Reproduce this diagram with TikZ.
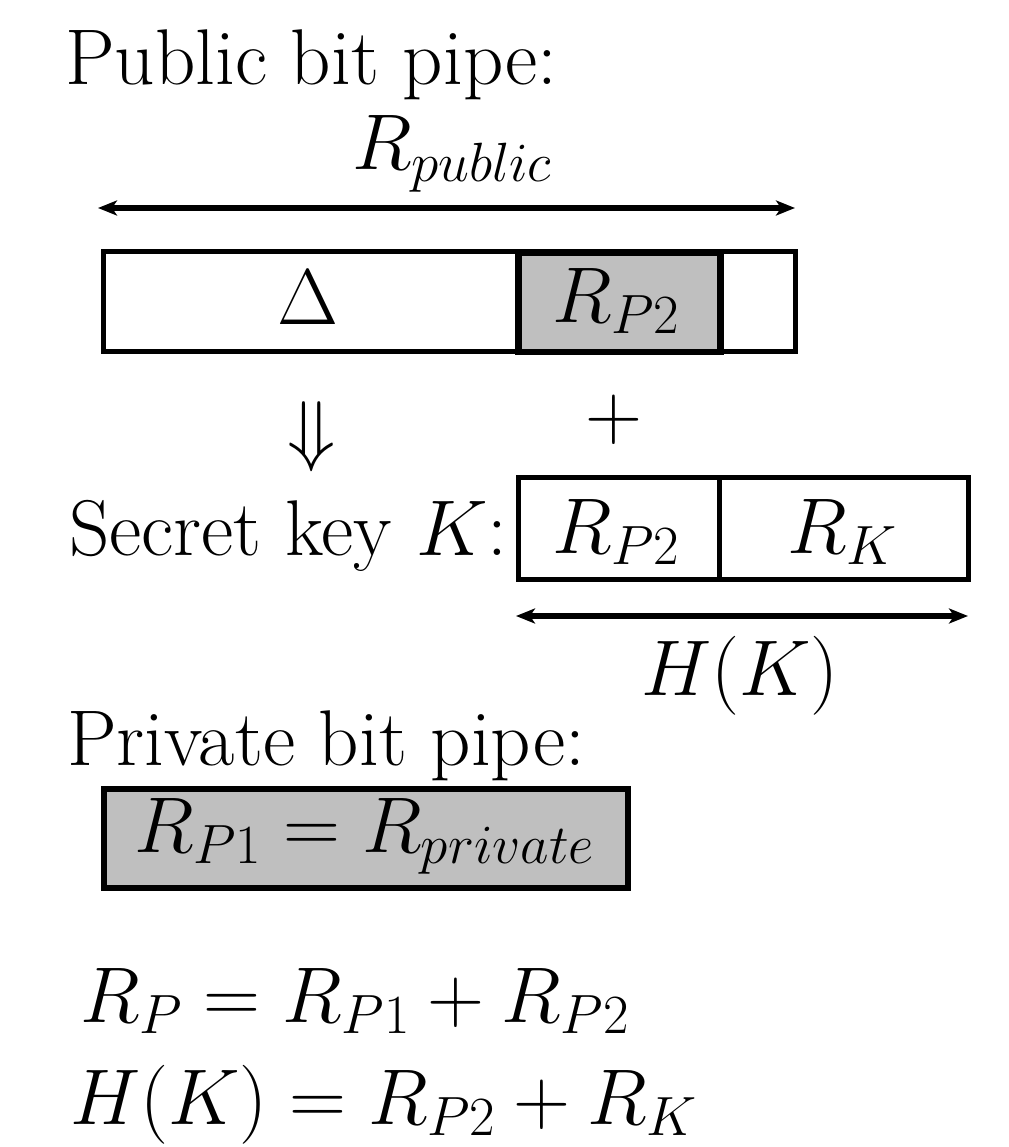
\RequirePackage{fix-cm}
\documentclass[tikz,border=0pt]{standalone}
\usetikzlibrary{arrows.meta}
\definecolor{fillgrey}{RGB}{191,191,191}
\begin{document}
\begin{tikzpicture}[x=1pt,y=-1pt,
  txt/.style={inner sep=0pt, font=\fontsize{79}{94}\selectfont},
  cell/.style={draw, rectangle, line width=5pt, inner sep=0pt, anchor=north west},
  shadedcell/.style={cell, fill=fillgrey, line width=6.5pt},
  dimarrow/.style={line width=5.5pt, {Stealth[length=19pt,width=15pt,inset=5pt]}-{Stealth[length=19pt,width=15pt,inset=5pt]}}]
\useasboundingbox (0,0) rectangle (1008,1147);

% public bit pipe
\node[txt, anchor=base west] (pubtitle) at (65,85) {Public bit pipe:};
\node[txt, anchor=base] (rpub) at (452,170) {$R_{public}$};
\coordinate (pubL) at (98,208);
\coordinate (pubR) at (795,208);
\draw[dimarrow] (pubL) -- (pubR);

\node[cell, minimum width=692pt, minimum height=99pt] (pubbox) at (100.5,249.5) {};
\node[shadedcell, minimum width=202pt, minimum height=99pt] (pubrp2) at (515,249.5) {};
\node[txt, anchor=base] (delta) at (308,324) {$\Delta$};
\node[txt, anchor=base] (rp2a) at (616,322) {$R_{P2}$};

% combining step
\node[txt] (darrow) at (312,437) {$\Downarrow$};
\node[txt] (plus) at (614,420) {$+$};

% secret key
\node[txt, anchor=base west] (keytitle) at (69,555) {Secret key $K$:};
\node[cell, minimum width=201pt, minimum height=102pt] (keyrp2) at (516,475) {};
\node[cell, minimum width=249pt, minimum height=102pt] (keyrk) at (717,475) {};
\node[txt, anchor=base] (rp2b) at (616,553) {$R_{P2}$};
\node[txt, anchor=base] (rk) at (842,553) {$R_K$};
\coordinate (hkL) at (516,616);
\coordinate (hkR) at (968,616);
\draw[dimarrow] (hkL) -- (hkR);
\node[txt, anchor=base] (hk) at (740,695) {$H(K)$};

% private bit pipe
\node[txt, anchor=base west] (privtitle) at (67,765) {Private bit pipe:};
\node[shadedcell, line width=6pt, minimum width=524pt, minimum height=99pt] (privbox) at (101,786) {};
\node[txt, anchor=base west] (rpriv) at (134,852) {$R_{P1}=R_{private}$};

% rate relations
\node[txt, anchor=base west] (eqa) at (80,1022) {$R_P=R_{P1}+R_{P2}$};
\node[txt, anchor=base west] (eqb) at (70,1124) {$H(K)=R_{P2}+R_K$};
\end{tikzpicture}
\end{document}
